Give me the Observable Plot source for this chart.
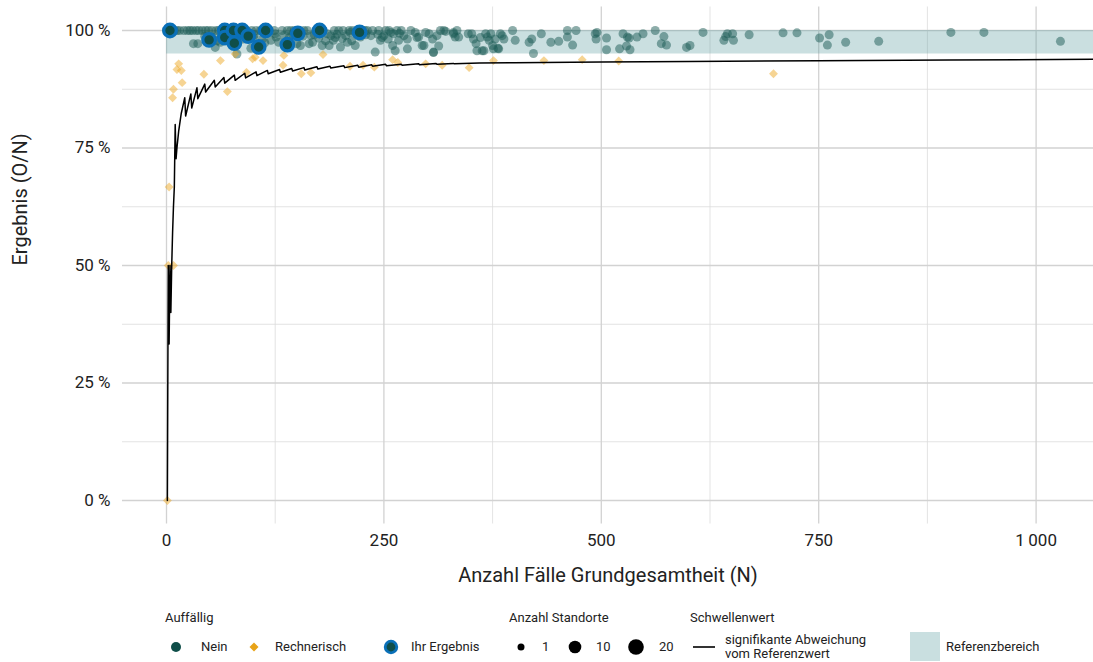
<!DOCTYPE html>
<html>
<head>
<meta charset="utf-8">
<script src="https://cdn.jsdelivr.net/npm/d3@7"></script>
<script src="https://cdn.jsdelivr.net/npm/@observablehq/plot@0.6"></script>
<style>
  body { margin: 0; background: white; font-family: "Liberation Sans Narrow", Roboto, "DejaVu Sans", sans-serif; }
  #wrap { position: relative; width: 1093px; height: 662px; }
  #legend { position: absolute; left: 0; top: 600px; width: 1093px; height: 62px; font-size: 13px; color: #222; }
  .lg { position: absolute; white-space: nowrap; line-height: 14px; }
  .sym { position: absolute; overflow: visible; }
</style>
</head>
<body>
<div id="wrap">
  <div id="chart"></div>
  <div id="legend"></div>
</div>
<script>
// ---------- data ----------
const xTicks = [0, 250, 500, 750, 1000];
const xMinor = [125, 375, 625, 875];
const yTicks = [0, 25, 50, 75, 100];
const yMinor = [12.5, 37.5, 62.5, 87.5];
const referenzbereich = [95, 100];

// Auffällig: Nein  [N, Ergebnis %]
const nein = [
  [562,100],[572,98.7],[569,97.2],[575,96.9],[598,96.4],[602,96.8],[617,99.6],[641,97.9],[643,98.7],[645,99.3],
  [651,99.3],[652,97.9],[670,99.1],[709,99.5],[725,99.5],[751,98.4],[762,99.1],[760,96.9],[781,97.5],[819,97.7],
  [902,99.6],[940,99.6],[1028,97.7],
  [420,98.2],[422,95.1],[431,99.3],[442,97.5],[451,97.7],[461,98.6],[461,100],[467,96.9],[471,100],[493,99.3],
  [495,99.6],[494,98.2],[506,98.4],[506,95.9],[521,96.1],[525,99.3],[530,98.6],[532,98.4],[529,96.7],[533,95.9],
  [541,98.6],[548,99.3],
  [277,98.2],[281,100],[286,99.6],[290,98.6],[294,96.8],[298,99.6],[302,99.3],[306,98.2],[307,95.4],[311,98.9],
  [313,96.7],[315,100],[319,100],[321,99.8],[330,99.3],[332,98.6],[336,98.6],[334,100],[351,99.3],[353,98.2],
  [357,95.7],[363,95.7],[367,99.3],[369,98.6],[371,97.9],[375,96.8],[376,96.1],[378,98.2],[382,96.1],[384,99.3],
  [386,98.9],[388,98.2],[398,100],[401,97.9],[417,97.5],
  [133,100],[139,100],[143,100],[154,96.8],[162,100],[166,98.9],[168,97.5],[179,96.8],[187,96.8],[189,98.9],
  [192,97.9],[198,100],[200,96.5],[206,98.9],[208,97.5],[210,100],[217,96.8],[225,100],[235,98.9],[237,100],
  [240,95.4],[246,97.9],[250,98.9],[252,100],[260,96.8],[261,99.3],[267,97.9],[273,98.9],[277,96.1],
  [20,100],[30,100],[41,100],[36,97.2],[31,97.2],[56,96.4],[62,97.5],[81,95],[97,96.2],[100,98.5],
  [120,97.9],[125,99.3],[129,97.5],[150,97.2],[164,97.2],[185,99.3],[194,98.5],[211,99.6],[231,100],[248,98.5],
  [258,99.6],[263,95.7],[288,98.5],[296,96.8],[307,95.3],[330,99.6],[347,99.3],[356,97.2],[361,98.5],[365,95.7],
  [373,99.3],[381,96.2],
  [0,100],[2,100],[6,100],[9,100],[12,100],[15,100],[24,100],[27,100],[34,100],[37,100],
  [45,100],[48,100],[52,100],[57,100],[60,100],[72,100],[82,100],[92,100],[98,100],[103,100],
  [108,100],[118,100],[124,100],[147,100],[152,100],[158,100],[172,100],[180,100],[193,100],[203,100],
  [214,100],[220,100],[228,100],[244,100],[256,100],[265,100],[270,100],
  [44,98.8],[53,98.5],[58,97.8],[64,99],[71,98.4],[74,97.4],[84,98.9],[88,98.2],[101,99.1],[110,98.1],
  [113,97.4],[126,98.6],[135,99],[141,98.4],[145,99.2],[157,98.8],[170,99.1],[175,98.4],[183,97.8],[196,99.2],
  [202,98.3],[213,97.8],[223,98.6],[229,99.1],[243,99.2],[255,98.2],[268,99.4]
];

// Auffällig: Rechnerisch
const rechnerisch = [
  [1,0],[2,50],[8,50],[3,66.7],[7,85.7],[8,87.5],[12,91.7],[14,92.9],[17,91.5],[18,88.9],
  [43,90.7],[62,93.6],[70,87],[79,95],[92,91.1],[99,94],[102,94.3],[111,93.6],[134,92.6],[135,94.7],
  [155,90.8],[166,91],[180,94.9],[211,92.4],[226,92.6],[239,92.2],[260,93.8],[266,93.2],[298,92.9],[317,92.6],
  [348,92.1],[376,93.6],[434,93.6],[478,93.8],[520,93.5],[698,90.8]
];

// Ihr Ergebnis
const ihrErgebnis = [
  [4,100],[49,98],[67,100],[67,98.5],[77,100],[78,97.3],[87,100],[94,98.8],[106,96.5],[114,100],
  [139,97],[151,99.4],[176,100],[222,99.6]
];

// Schwellenwert (signifikante Abweichung vom Referenzwert)
const schwellenwert = [
  [1,0],[2,50],[3,33.3],[4,50],[5,40],[6,50],[7,57],[8,62.5],[9,66.7],[10,80],[11,72.7],[12,75],[14,78.6],
  [17,82.4],[21,85.7],[22,81.8],[28,86.5],[29,83.5],[35,87.8],[36,85.5],[44,88.6],[45,86.9],[55,89.4],[56,88],
  [66,90],[67,88.8],[78,90.5],[79,89.4],[90,90.9],[91,89.9],[103,91.2],[104,90.4],[116,91.5],[117,90.8],
  [130,91.7],[131,91.1],[144,91.9],[145,91.4],[158,92.1],[159,91.6],[173,92.3],[174,91.8],[188,92.4],[189,92],
  [204,92.5],[205,92.1],[220,92.6],[221,92.2],[236,92.7],[237,92.4],[252,92.8],[253,92.5],[270,92.8],[271,92.6],
  [290,92.9],[291,92.7],[310,93],[311,92.8],[330,93],[331,92.9],[360,93.1],[400,93.15],[500,93.3],[600,93.4],
  [750,93.55],[900,93.7],[1066,93.9]
];

// ---------- chart ----------
const FONT = '"Liberation Sans Narrow", Roboto, "DejaVu Sans", sans-serif';
const fmtX = d => d >= 1000 ? d3.format(",")(d).replace(",", "\u2009") : String(d);

const chart = Plot.plot({
  width: 1093,
  height: 600,
  marginLeft: 122,
  marginRight: 0,
  marginTop: 6.5,
  marginBottom: 76.5,
  x: {domain: [-50.6, 1066], axis: null},
  y: {domain: [-5, 105], axis: null},
  style: {fontFamily: FONT, background: "white", color: "#222"},
  marks: [
    Plot.ruleY(yMinor, {stroke: "#dcdcdc", strokeWidth: 0.8}),
    Plot.ruleX(xMinor, {stroke: "#dcdcdc", strokeWidth: 0.8}),
    Plot.ruleY(yTicks, {stroke: "#d2d2d2", strokeWidth: 1.3}),
    Plot.ruleX(xTicks, {stroke: "#d2d2d2", strokeWidth: 1.3}),
    Plot.rect([referenzbereich], {x1: 0, x2: 1066, y1: d => d[0], y2: d => d[1], fill: "#5f9ea0", fillOpacity: 0.33}),
    Plot.dot(nein, {x: d => d[0], y: d => d[1], r: 4.5, fill: "#1b5c55", fillOpacity: 0.5}),
    Plot.dot(rechnerisch, {x: d => d[0], y: d => d[1], r: 4, symbol: "diamond2", fill: "#eda928", fillOpacity: 0.5, stroke: "none"}),
    Plot.line(schwellenwert, {x: d => d[0], y: d => d[1], stroke: "black", strokeWidth: 1.5}),
    Plot.dot(ihrErgebnis, {x: d => d[0], y: d => d[1], r: 6.3, fill: "#0f4e49", stroke: "#0a70b8", strokeWidth: 3.2}),
    Plot.axisY(yTicks, {tickSize: 0, tickPadding: 12, tickFormat: d => d + " %", fontSize: 17, label: null}),
    Plot.axisX(xTicks, {tickSize: 0, tickPadding: 10, tickFormat: fmtX, fontSize: 17, label: null}),
    Plot.text(["Anzahl Fälle Grundgesamtheit (N)"], {frameAnchor: "bottom", dy: 58, fontSize: 20, fill: "#222"}),
    Plot.text(["Ergebnis (O/N)"], {frameAnchor: "left", dx: -102, rotate: -90, fontSize: 20, fill: "#222"})
  ]
});
document.getElementById("chart").appendChild(chart);

// ---------- legend (below the SVG) ----------
const legend = document.getElementById("legend");
function addText(txt, left, cy) {
  const d = document.createElement("div");
  d.className = "lg";
  d.textContent = txt;
  d.style.left = left + "px";
  d.style.top = (cy - 7) + "px";
  legend.appendChild(d);
}
function addSvg(left, top, w, h, inner) {
  const s = document.createElementNS("http://www.w3.org/2000/svg", "svg");
  s.setAttribute("class", "sym");
  s.setAttribute("width", w); s.setAttribute("height", h);
  s.style.left = left + "px"; s.style.top = top + "px";
  s.innerHTML = inner;
  legend.appendChild(s);
}
const ly = 47; // row centre relative to legend top
addText("Auffällig", 165, 18);
addSvg(170, ly - 6, 12, 12, '<circle cx="6" cy="6" r="5" fill="#0f4e49"/>');
addText("Nein", 201, ly);
addSvg(248, ly - 6, 12, 12, '<path d="M6 1.5 L10.5 6 L6 10.5 L1.5 6 Z" fill="#e8a317"/>');
addText("Rechnerisch", 275, ly);
addSvg(383, ly - 8, 16, 16, '<circle cx="8" cy="8" r="5.8" fill="#0f4e49" stroke="#0a70b8" stroke-width="2.8"/>');
addText("Ihr Ergebnis", 411, ly);

addText("Anzahl Standorte", 509, 18);
addSvg(515, ly - 6, 12, 12, '<circle cx="6" cy="6" r="3.5" fill="black"/>');
addText("1", 542, ly);
addSvg(567, ly - 8, 16, 16, '<circle cx="8" cy="8" r="6.3" fill="black"/>');
addText("10", 596, ly);
addSvg(627, ly - 9, 18, 18, '<circle cx="9" cy="9" r="7.8" fill="black"/>');
addText("20", 659, ly);

addText("Schwellenwert", 690, 18);
addSvg(692, ly - 3, 24, 6, '<line x1="1" y1="3" x2="23" y2="3" stroke="black" stroke-width="1.6"/>');
addText("signifikante Abweichung", 725, 40);
addText("vom Referenzwert", 725, 54);

addSvg(910, 32, 30, 29, '<rect x="0" y="0" width="30" height="29" fill="#c9dfe0"/>');
addText("Referenzbereich", 946, ly);
</script>
</body>
</html>
